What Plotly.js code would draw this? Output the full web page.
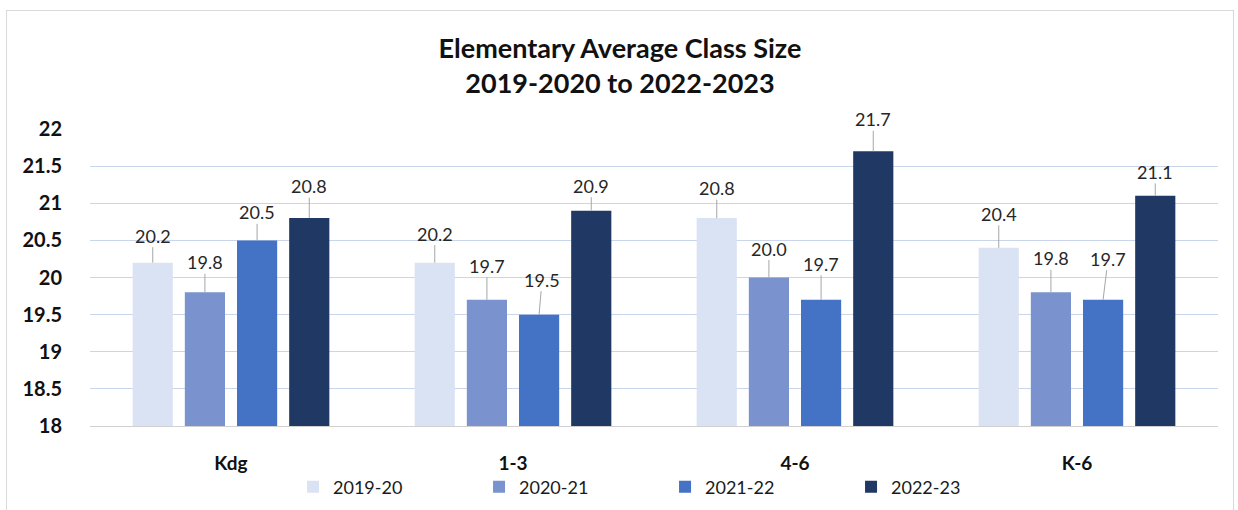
<!DOCTYPE html>
<html>
<head>
<meta charset="utf-8">
<script src="https://cdn.plot.ly/plotly-3.0.1.min.js"></script>
<style>
  html, body { margin: 0; padding: 0; background: #fff; overflow: hidden; width: 1238px; height: 510px; }
  #frame { position: absolute; left: 6px; top: 10px; width: 1226px; height: 500px; border: 1px solid #d9d9d9; background: #fff; }
  #chart { width: 1226px; height: 500px; }
</style>
</head>
<body>
<div id="frame"><div id="chart"></div></div>
<script>
// ---- data ----
const categories = ["Kdg", "1-3", "4-6", "K-6"];
const seriesNames = ["2019-20", "2020-21", "2021-22", "2022-23"];
const s2019_20 = [20.2, 20.2, 20.8, 20.4];
const s2020_21 = [19.8, 19.7, 20.0, 19.8];
const s2021_22 = [20.5, 19.5, 19.7, 19.7];
const s2022_23 = [20.8, 20.9, 21.7, 21.1];
const yTickVals = [18, 18.5, 19, 19.5, 20, 20.5, 21, 21.5, 22];
const yTickText = ["18", "18.5", "19", "19.5", "20", "20.5", "21", "21.5", "22"];

// ---- styles ----
const colors = ["#dae3f3", "#7a92cd", "#4472c4", "#203864"];
const FONT = "Lato, 'Open Sans', sans-serif";
const bargap = 0.26;
// label leader offsets (pixels) per series, per category
const labelAy = [
  [-27, -29, -30, -34],
  [-30, -34, -29, -34],
  [-28, -35, -36, -41],
  [-32, -25, -32, -24]
];
const labelAx = [
  [0, 0, 0, 0],
  [0, 0, 0, 0],
  [0, 3, 0, 5],
  [0, 0, 0, 0]
];

const allSeries = [s2019_20, s2020_21, s2021_22, s2022_23];

const traces = allSeries.map((vals, i) => ({
  type: "bar",
  name: seriesNames[i],
  x: categories,
  y: vals,
  marker: { color: colors[i] },
  hoverinfo: "x+y+name"
}));

const slot = (1 - bargap) / allSeries.length;
const annotations = [];
allSeries.forEach((vals, i) => {
  vals.forEach((v, j) => {
    annotations.push({
      xref: "x", yref: "y",
      x: j + (i - (allSeries.length - 1) / 2) * slot,
      y: v,
      text: v.toFixed(1),
      showarrow: true,
      arrowhead: 0,
      arrowwidth: 1,
      arrowcolor: "#a6a6a6",
      standoff: 0,
      borderpad: 0,
      ax: labelAx[i][j],
      ay: labelAy[i][j],
      font: { family: FONT, size: 18, color: "#262626" }
    });
  });
});

const layout = {
  width: 1226,
  height: 500,
  margin: { l: 83, r: 15, t: 118, b: 85, autoexpand: false },
  paper_bgcolor: "#ffffff",
  plot_bgcolor: "#ffffff",
  font: { family: FONT, color: "#111" },
  title: {
    text: "<b>Elementary Average Class Size</b><br><b>2019-2020 to 2022-2023</b>",
    x: 0.5, xref: "container", xanchor: "center",
    y: 1 - 47 / 500, yref: "container", yanchor: "middle",
    font: { family: FONT, size: 27, color: "#111" }
  },
  barmode: "group",
  bargap: bargap,
  bargroupgap: 0.23,
  xaxis: {
    type: "category",
    showgrid: false,
    showline: true,
    linecolor: "#d0d0d0",
    linewidth: 1,
    ticks: "",
    ticklabelstandoff: 20,
    tickfont: { family: FONT, size: 19, color: "#111", weight: "bold" },
    fixedrange: true
  },
  yaxis: {
    range: [18, 22],
    tickvals: yTickVals,
    ticktext: yTickText,
    showgrid: true,
    gridcolor: "#c9d5ea",
    gridwidth: 1,
    zeroline: false,
    showline: false,
    ticks: "",
    ticklabelstandoff: 27,
    tickfont: { family: FONT, size: 20, color: "#111", weight: "bold" },
    fixedrange: true
  },
  showlegend: true,
  legend: {
    orientation: "h",
    x: 0.18, xanchor: "left",
    yref: "container",
    y: 1 - (487 - 11) / 500, yanchor: "middle",
    entrywidth: 141,
    entrywidthmode: "pixels",
    font: { family: FONT, size: 18, color: "#1a1a1a" },
    bgcolor: "rgba(0,0,0,0)"
  },
  annotations: annotations
};

Plotly.newPlot("chart", traces, layout, { displayModeBar: false, staticPlot: true });
</script>
</body>
</html>
